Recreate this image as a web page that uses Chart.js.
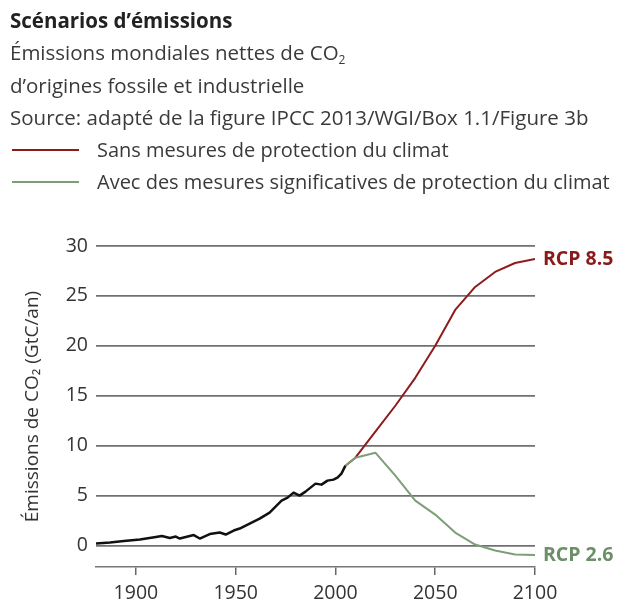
<!DOCTYPE html>
<html>
<head>
<meta charset="utf-8">
<script src="https://cdn.jsdelivr.net/npm/chart.js@4/dist/chart.umd.min.js"></script>
<style>
  body { margin: 0; background: #fff; }
  #wrap { position: relative; width: 619px; height: 604px; overflow: hidden; }
  #chart { position: absolute; left: 0; top: 0; }
  #head {
    position: absolute; left: 10px; top: 4px;
    font-family: "Open Sans", sans-serif; font-size: 20.5px; line-height: 32.4px;
    color: #3a3a3a; white-space: nowrap;
  }
  #head b { color: #222; }
  #head sub { font-size: 12px; vertical-align: -4px; line-height: 0; }
  .leg { position: relative; padding-left: 87px; font-size: 20px; }
  .leg i { position: absolute; left: 2px; top: 15px; width: 67px; height: 2px; }
</style>
</head>
<body>
<div id="wrap">
  <canvas id="chart" width="619" height="604"></canvas>
  <div id="head">
    <div><b>Scénarios d’émissions</b></div>
    <div>Émissions mondiales nettes de CO<sub>2</sub></div>
    <div>d’origines fossile et industrielle</div>
    <div>Source: adapté de la figure IPCC 2013/WGI/Box 1.1/Figure 3b</div>
    <div class="leg"><i style="background:#8e1b1b"></i>Sans mesures de protection du climat</div>
    <div class="leg"><i style="background:#7c9f78"></i>Avec des mesures significatives de protection du climat</div>
  </div>
</div>
<script>
// Historical emissions (GtC/an)
const histYears = [1880, 1887, 1894, 1902, 1910, 1913, 1917, 1920, 1922, 1927, 1929, 1932, 1937, 1942, 1945, 1949, 1952, 1955, 1962, 1967, 1973, 1976, 1979, 1982, 1985, 1990, 1993, 1996, 1999, 2001, 2003, 2005];
const histValues = [0.2, 0.3, 0.45, 0.6, 0.85, 0.95, 0.75, 0.9, 0.7, 0.95, 1.05, 0.7, 1.15, 1.3, 1.1, 1.5, 1.7, 2.0, 2.7, 3.3, 4.5, 4.8, 5.3, 5.0, 5.4, 6.2, 6.1, 6.5, 6.6, 6.8, 7.2, 8.0];

// Scenarios
const rcp85Years = [2005, 2010, 2020, 2030, 2040, 2050, 2060, 2070, 2080, 2090, 2100];
const rcp85Values = [8.0, 8.8, 11.4, 14.0, 16.8, 20.0, 23.6, 25.9, 27.4, 28.3, 28.7];
const rcp26Years = [2005, 2010, 2020, 2030, 2040, 2050, 2060, 2070, 2080, 2090, 2100];
const rcp26Values = [8.0, 8.8, 9.3, 7.0, 4.5, 3.1, 1.3, 0.1, -0.5, -0.9, -0.95];

const xTicks = [1900, 1950, 2000, 2050, 2100];
const yTicks = [0, 5, 10, 15, 20, 25, 30];

const toPoints = (xs, ys) => xs.map((x, i) => ({ x: x, y: ys[i] }));

// Draw the "RCP" labels next to the end of each scenario line
const endLabels = {
  id: 'endLabels',
  afterDatasetsDraw(chart) {
    const ctx = chart.ctx;
    const xs = chart.scales.x, ys = chart.scales.y;
    ctx.save();
    ctx.font = 'bold 19.5px "Open Sans", sans-serif';
    ctx.textBaseline = 'middle';
    chart.data.datasets.forEach(ds => {
      if (!ds.endLabel) return;
      const last = ds.data[ds.data.length - 1];
      ctx.fillStyle = ds.labelColor;
      ctx.fillText(ds.endLabel, xs.getPixelForValue(last.x) + 8, ys.getPixelForValue(last.y));
    });
    ctx.restore();
  }
};

new Chart(document.getElementById('chart'), {
  type: 'line',
  data: {
    datasets: [{
      label: 'Avec des mesures significatives de protection du climat',
      data: toPoints(rcp26Years, rcp26Values),
      borderColor: '#7c9f78',
      borderWidth: 2,
      endLabel: 'RCP 2.6',
      labelColor: '#6c8f68'
    }, {
      label: 'Sans mesures de protection du climat',
      data: toPoints(rcp85Years, rcp85Values),
      borderColor: '#8e1b1b',
      borderWidth: 2,
      endLabel: 'RCP 8.5',
      labelColor: '#8a1a1a'
    }, {
      label: 'Historique',
      data: toPoints(histYears, histValues),
      borderColor: '#111',
      borderWidth: 2.5
    }]
  },
  options: {
    responsive: false,
    animation: false,
    devicePixelRatio: 1,
    layout: { padding: { top: 246, right: 84, left: 0, bottom: 0 } },
    elements: { point: { radius: 0 }, line: { tension: 0, borderJoinStyle: 'round' } },
    plugins: { legend: { display: false }, tooltip: { enabled: false } },
    scales: {
      x: {
        type: 'linear',
        min: 1880,
        max: 2100,
        afterBuildTicks: axis => { axis.ticks = xTicks.map(v => ({ value: v })); },
        afterFit: scale => { scale.height = 37; },
        grid: { drawOnChartArea: false, drawTicks: true, tickLength: 8, color: '#666', lineWidth: 1.5 },
        border: { display: true, color: '#777', width: 1.5 },
        ticks: {
          color: '#333',
          padding: 7,
          maxRotation: 0,
          font: { family: '"Open Sans", sans-serif', size: 19.5 },
          callback: v => String(v)
        }
      },
      y: {
        min: -2.15,
        max: 30,
        afterBuildTicks: axis => { axis.ticks = yTicks.map(v => ({ value: v })); },
        afterFit: scale => { scale.width = 96; },
        grid: { drawTicks: false, color: '#707070', lineWidth: 1.7 },
        border: { display: false },
        ticks: {
          color: '#333',
          padding: 8,
          font: { family: '"Open Sans", sans-serif', size: 19.5 }
        },
        title: {
          display: true,
          text: 'Émissions de CO₂ (GtC/an)',
          color: '#333',
          padding: { top: 21, bottom: 0 },
          font: { family: '"Open Sans", sans-serif', size: 19 }
        }
      }
    }
  },
  plugins: [endLabels]
});
</script>
</body>
</html>
